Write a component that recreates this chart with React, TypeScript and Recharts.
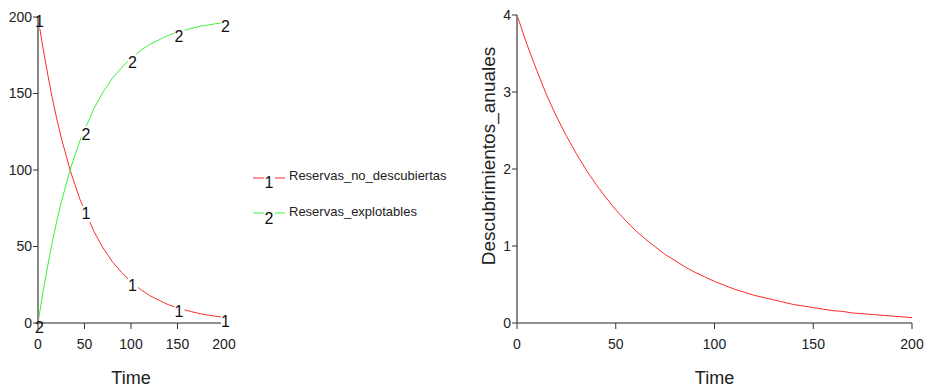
import { LineChart, Line, XAxis, YAxis, Label, LabelList } from 'recharts';

const time = [
  0, 5, 10, 15, 20, 25, 30, 35, 40, 45, 50, 55, 60, 65, 70, 75, 80, 85, 90, 95, 100,
  105, 110, 115, 120, 125, 130, 135, 140, 145, 150, 155, 160, 165, 170, 175, 180, 185, 190, 195, 200,
];
const reservasNoDescubiertas = [
  200, 181, 164, 148, 134, 121, 110, 99, 90, 81, 74, 67, 60, 54.5, 49, 44.6, 40, 36.5, 33, 30, 27,
  24.5, 22, 20, 18, 16.4, 15, 13.4, 12, 11, 10, 9, 8.2, 7.4, 6.7, 6, 5.5, 5, 4.5, 4.1, 3.7,
];
const reservasExplotables = [
  0, 19, 36, 52, 66, 79, 90, 101, 110, 119, 126, 133, 140, 145.5, 151, 155.4, 160, 163.5, 167, 170, 173,
  175.5, 178, 180, 182, 183.6, 185, 186.6, 188, 189, 190, 191, 191.8, 192.6, 193.3, 194, 194.5, 195, 195.5, 195.9, 196.3,
];
const descubrimientosAnuales = [
  4, 3.62, 3.28, 2.96, 2.68, 2.43, 2.2, 1.99, 1.8, 1.63, 1.47, 1.33, 1.2, 1.09, 0.99, 0.89, 0.81, 0.73, 0.66, 0.6, 0.54,
  0.49, 0.44, 0.4, 0.36, 0.33, 0.3, 0.27, 0.24, 0.22, 0.2, 0.18, 0.16, 0.15, 0.13, 0.12, 0.11, 0.1, 0.09, 0.08, 0.07,
];
const xTicks = [0, 50, 100, 150, 200];
const leftYTicks = [0, 50, 100, 150, 200];
const rightYTicks = [0, 1, 2, 3, 4];

const leftData = time.map((t, i) => ({
  time: t,
  noDesc: reservasNoDescubiertas[i],
  explot: reservasExplotables[i],
}));
const rightData = time.map((t, i) => ({ time: t, desc: descubrimientosAnuales[i] }));

const RED = '#ff2a2a';
const GREEN = '#3cf03c';
const FONT = '"Liberation Sans", Arial, sans-serif';
const tickStyle = { fontSize: 14, fill: '#222', fontFamily: FONT };

// the "1" / "2" markers every 50 time units, with a white gap in the line
function marker(tag: string) {
  return (props: any) => {
    const { x, y, value } = props;
    if (value % 50 !== 0) return null;
    const atStart = value === 0;
    return (
      <g key={`${tag}-${value}`}>
        {!(atStart && tag === '2') && (
          <rect x={atStart ? x + 1.5 : x - 3} y={y - 4} width={atStart ? 6 : 10} height={16} fill="#fff" />
        )}
        <text
          x={x + 1.5}
          y={y + 4}
          textAnchor="middle"
          dominantBaseline="central"
          fontSize={16}
          fill="#111"
          fontFamily={FONT}
        >
          {tag}
        </text>
      </g>
    );
  };
}

function timeLabel(props: any) {
  const vb = props.viewBox;
  return (
    <text x={vb.x + vb.width / 2} y={vb.y + 61} textAnchor="middle" fontSize={18} fill="#222" fontFamily={FONT}>
      Time
    </text>
  );
}

function descLabel(props: any) {
  const vb = props.viewBox;
  const cx = vb.x + 35;
  const cy = 156;
  return (
    <text
      x={cx}
      y={cy}
      transform={`rotate(-90 ${cx} ${cy})`}
      textAnchor="middle"
      fontSize={19}
      fill="#222"
      fontFamily={FONT}
    >
      Descubrimientos_anuales
    </text>
  );
}

function Legend() {
  return (
    <svg width={210} height={70} style={{ position: 'absolute', left: 245, top: 160 }}>
      <line x1={8} y1={18} x2={19} y2={18} stroke={RED} />
      <line x1={30} y1={18} x2={40} y2={18} stroke={RED} />
      <text x={24} y={22} textAnchor="middle" dominantBaseline="central" fontSize={16} fill="#111" fontFamily={FONT}>
        1
      </text>
      <text x={44} y={20} fontSize={13} fill="#222" fontFamily={FONT}>
        Reservas_no_descubiertas
      </text>
      <line x1={8} y1={53} x2={19} y2={53} stroke={GREEN} />
      <line x1={30} y1={53} x2={40} y2={53} stroke={GREEN} />
      <text x={24} y={58} textAnchor="middle" dominantBaseline="central" fontSize={16} fill="#111" fontFamily={FONT}>
        2
      </text>
      <text x={44} y={56} fontSize={13} fill="#222" fontFamily={FONT}>
        Reservas_explotables
      </text>
    </svg>
  );
}

export default function App() {
  return (
    <div style={{ position: 'absolute', left: 0, top: 0, width: 927, height: 390, background: '#fff' }}>
      <div style={{ position: 'absolute', left: 0, top: 0 }}>
        <LineChart width={240} height={390} data={leftData} margin={{ top: 17, right: 16, left: 0, bottom: 0 }}>
          <XAxis
            dataKey="time"
            type="number"
            domain={[0, 200]}
            ticks={xTicks}
            height={67}
            tickSize={6}
            tickMargin={10}
            tick={tickStyle}
            axisLine={{ stroke: '#222' }}
            tickLine={{ stroke: '#333' }}
          >
            <Label content={timeLabel} />
          </XAxis>
          <YAxis
            type="number"
            domain={[0, 200]}
            ticks={leftYTicks}
            width={38}
            tickSize={5}
            tickMargin={1}
            tick={tickStyle}
            axisLine={{ stroke: '#888', strokeWidth: 2 }}
            tickLine={{ stroke: '#333' }}
          />
          <Line dataKey="noDesc" stroke={RED} strokeWidth={1} dot={false} isAnimationActive={false}>
            <LabelList dataKey="time" content={marker('1')} />
          </Line>
          <Line dataKey="explot" stroke={GREEN} strokeWidth={1} dot={false} isAnimationActive={false}>
            <LabelList dataKey="time" content={marker('2')} />
          </Line>
        </LineChart>
      </div>
      <Legend />
      <div style={{ position: 'absolute', left: 460, top: 0 }}>
        <LineChart width={467} height={390} data={rightData} margin={{ top: 15, right: 15, left: 0, bottom: 0 }}>
          <XAxis
            dataKey="time"
            type="number"
            domain={[0, 200]}
            ticks={xTicks}
            height={67}
            tickSize={6}
            tickMargin={10}
            tick={tickStyle}
            axisLine={{ stroke: '#222' }}
            tickLine={{ stroke: '#333' }}
          >
            <Label content={timeLabel} />
          </XAxis>
          <YAxis
            type="number"
            domain={[0, 4]}
            ticks={rightYTicks}
            width={57}
            tickSize={5}
            tickMargin={1}
            tick={tickStyle}
            axisLine={{ stroke: '#888', strokeWidth: 2 }}
            tickLine={{ stroke: '#333' }}
          >
            <Label content={descLabel} />
          </YAxis>
          <Line dataKey="desc" stroke={RED} strokeWidth={1} dot={false} isAnimationActive={false} />
        </LineChart>
      </div>
    </div>
  );
}
